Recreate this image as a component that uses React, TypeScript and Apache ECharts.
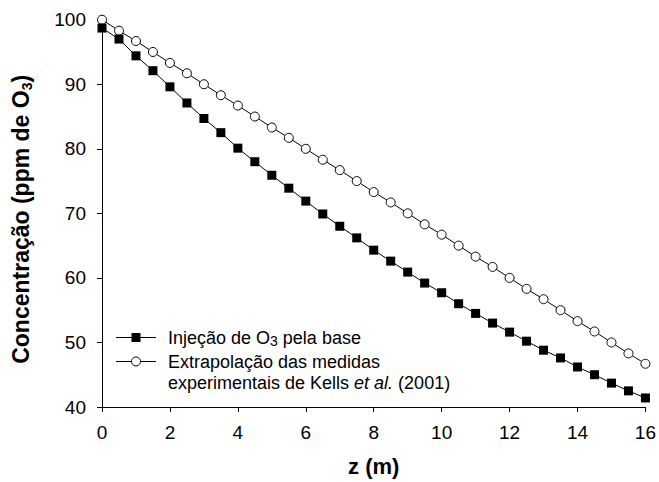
import React, { useEffect, useRef } from "react";
import * as echarts from "echarts";

const FONT = "'Liberation Sans', Arial, Helvetica, sans-serif";

// z (m)
const zValues = [
  0, 0.5, 1, 1.5, 2, 2.5, 3, 3.5, 4, 4.5, 5, 5.5, 6, 6.5, 7, 7.5, 8, 8.5, 9, 9.5,
  10, 10.5, 11, 11.5, 12, 12.5, 13, 13.5, 14, 14.5, 15, 15.5, 16,
];

// Injeção de O3 pela base (filled squares)
const injecaoBase = [
  98.7, 97.0, 94.4, 92.1, 89.6, 87.1, 84.7, 82.5, 80.1, 78.0, 75.9, 73.9, 71.9, 69.9,
  68.0, 66.2, 64.3, 62.6, 60.9, 59.2, 57.7, 56.0, 54.5, 53.0, 51.6, 50.2, 48.8, 47.6,
  46.2, 45.0, 43.7, 42.5, 41.4,
];

// Extrapolação das medidas experimentais de Kells et al. (2001) (open circles)
const kellsExtrap = [
  100.0, 98.3, 96.7, 95.0, 93.3, 91.7, 90.0, 88.3, 86.7, 85.0, 83.3, 81.7, 80.0, 78.3,
  76.7, 75.0, 73.3, 71.7, 70.0, 68.3, 66.7, 65.0, 63.3, 61.7, 60.0, 58.3, 56.7, 55.0,
  53.3, 51.7, 50.0, 48.3, 46.7,
];

const xTicks = [0, 2, 4, 6, 8, 10, 12, 14, 16];
const yTicks = [40, 50, 60, 70, 80, 90, 100];

const seriesNames = [
  "Injeção de O3 pela base",
  "Extrapolação das medidas experimentais de Kells et al. (2001)",
];

export default function App() {
  const ref = useRef<HTMLDivElement>(null);

  useEffect(() => {
    if (!ref.current) return;
    const chart = echarts.init(ref.current, null, { renderer: "svg" });

    const pairs = (ys: number[]) => zValues.map((z, i) => [z, ys[i]]);

    chart.setOption({
      animation: false,
      backgroundColor: "#ffffff",
      grid: { left: 101.7, right: 13.3, top: 19.7, bottom: 73, containLabel: false },
      xAxis: {
        type: "value",
        min: xTicks[0],
        max: xTicks[xTicks.length - 1],
        interval: 2,
        name: "z (m)",
        nameLocation: "middle",
        nameGap: 48,
        nameTextStyle: { fontFamily: FONT, fontSize: 22, fontWeight: "bold", color: "#000" },
        axisLine: { show: true, lineStyle: { color: "#000", width: 1 } },
        axisTick: { show: true, inside: false, length: 5, lineStyle: { color: "#000", width: 1 } },
        axisLabel: { fontFamily: FONT, fontSize: 19, color: "#000", margin: 16 },
        splitLine: { show: false },
      },
      yAxis: {
        type: "value",
        min: yTicks[0],
        max: yTicks[yTicks.length - 1],
        interval: 10,
        name: "Concentração (ppm de O{sub|3})",
        nameLocation: "middle",
        nameGap: 68,
        nameTextStyle: {
          fontFamily: FONT,
          fontSize: 23,
          fontWeight: "bold",
          color: "#000",
          lineHeight: 26,
          padding: [0, 12, 0, 0],
          rich: {
            sub: {
              fontFamily: FONT,
              fontSize: 14,
              fontWeight: "bold",
              color: "#000",
              verticalAlign: "bottom",
              lineHeight: 16,
            },
          },
        },
        axisLine: { show: true, lineStyle: { color: "#000", width: 1 } },
        axisTick: { show: true, inside: false, length: 5, lineStyle: { color: "#000", width: 1 } },
        axisLabel: { fontFamily: FONT, fontSize: 19, color: "#000", margin: 16 },
        splitLine: { show: false },
      },
      series: [
        {
          name: seriesNames[1],
          type: "line",
          data: pairs(kellsExtrap),
          symbol: "circle",
          symbolSize: 9,
          lineStyle: { color: "#000", width: 1 },
          itemStyle: { color: "#fff", borderColor: "#000", borderWidth: 1 },
          z: 2,
        },
        {
          name: seriesNames[0],
          type: "line",
          data: pairs(injecaoBase),
          symbol: "rect",
          symbolSize: 9,
          lineStyle: { color: "#000", width: 1 },
          itemStyle: { color: "#000", borderColor: "#000", borderWidth: 0 },
          z: 3,
        },
      ],
      graphic: [
        { type: "line", shape: { x1: 116, y1: 337.5, x2: 156, y2: 337.5 }, style: { stroke: "#000", lineWidth: 1 } },
        { type: "rect", shape: { x: 131.5, y: 333, width: 9, height: 9 }, style: { fill: "#000" } },
        {
          type: "text",
          x: 168,
          y: 327,
          style: {
            text: "Injeção de O{sub|3} pela base",
            fontFamily: FONT,
            fontSize: 18,
            lineHeight: 21,
            fill: "#000",
            verticalAlign: "top",
            rich: {
              sub: { fontFamily: FONT, fontSize: 14, lineHeight: 16, verticalAlign: "bottom", fill: "#000" },
            },
          },
        },
        { type: "line", shape: { x1: 116, y1: 361.5, x2: 156, y2: 361.5 }, style: { stroke: "#000", lineWidth: 1 } },
        { type: "circle", shape: { cx: 136, cy: 361.5, r: 4.5 }, style: { fill: "#fff", stroke: "#000", lineWidth: 1 } },
        {
          type: "text",
          x: 168,
          y: 351,
          style: {
            text: "Extrapolação das medidas\nexperimentais de Kells {i|et al.} (2001)",
            fontFamily: FONT,
            fontSize: 18,
            lineHeight: 21,
            fill: "#000",
            verticalAlign: "top",
            rich: {
              i: { fontFamily: FONT, fontSize: 18, lineHeight: 21, fontStyle: "italic", fill: "#000" },
            },
          },
        },
      ],
    });

    return () => chart.dispose();
  }, []);

  return (
    <div
      ref={ref}
      style={{ position: "fixed", left: 0, top: 0, width: 659, height: 482, background: "#fff" }}
    />
  );
}
